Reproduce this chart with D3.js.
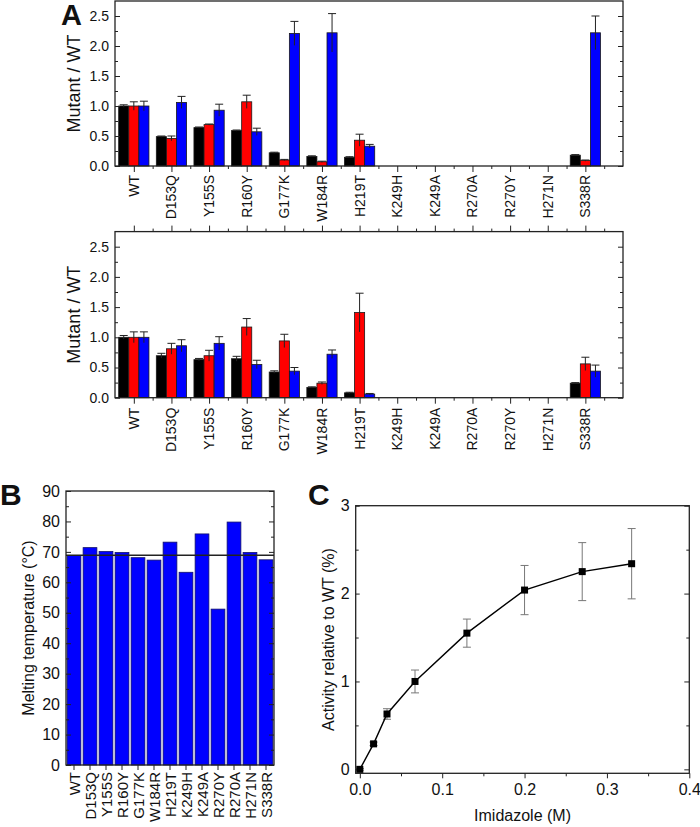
<!DOCTYPE html>
<html><head><meta charset="utf-8">
<script src="https://cdn.jsdelivr.net/npm/d3@7"></script>
<style>body{margin:0;background:#fff}svg{display:block}text{font-family:"Liberation Sans",Arial,sans-serif;fill:#111}</style>
</head><body><div id="chart"></div>
<script>
// ---------- DATA ----------
const categories = ["WT","D153Q","Y155S","R160Y","G177K","W184R","H219T","K249H","K249A","R270A","R270Y","H271N","S338R"];
// Panel A, upper chart
const topBlack    = [1.00,0.49,0.64,0.59,0.22,0.16,0.145,null,null,null,null,null,0.18];
const topBlackErr = [0.02,0.01,0.01,0.01,0.01,0.01,0.01,null,null,null,null,null,0.01];
const topRed      = [1.00,0.46,0.69,1.07,0.10,0.07,0.43,null,null,null,null,null,0.09];
const topRedErr   = [0.07,0.04,0.01,0.11,0.01,0.01,0.10,null,null,null,null,null,0.01];
const topBlue     = [1.00,1.06,0.93,0.57,2.21,2.22,0.33,null,null,null,null,null,2.22];
const topBlueErr  = [0.08,0.10,0.10,0.06,0.20,0.32,0.03,null,null,null,null,null,0.28];
// Panel A, lower chart
const botBlack    = [1.00,0.695,0.63,0.645,0.425,0.17,0.08,null,null,null,null,null,0.24];
const botBlackErr = [0.03,0.04,0.02,0.04,0.02,0.01,0.01,null,null,null,null,null,0.01];
const botRed      = [1.00,0.81,0.695,1.17,0.94,0.24,1.41,null,null,null,null,null,0.56];
const botRedErr   = [0.09,0.09,0.09,0.14,0.11,0.02,0.32,null,null,null,null,null,0.11];
const botBlue     = [1.00,0.86,0.90,0.55,0.44,0.72,0.06,null,null,null,null,null,0.44];
const botBlueErr  = [0.09,0.10,0.11,0.07,0.06,0.07,0.01,null,null,null,null,null,0.10];
const aYTicks = [0,0.5,1.0,1.5,2.0,2.5];
// Panel B
const bCategories = ["WT","D153Q","Y155S","R160Y","G177K","W184R","H219T","K249H","K249A","R270Y","R270A","H271N","S338R"];
const meltTemp = [68.8,71.4,70.1,69.8,68.1,67.3,73.2,63.3,75.9,51.2,79.8,69.8,67.4];
const wtMelt = 68.9;
const bYTicks = [0,10,20,30,40,50,60,70,80,90];
// Panel C
const imidazole = [0,0.0167,0.033,0.067,0.13,0.2,0.27,0.33];
const activity  = [0,0.29,0.63,1.00,1.55,2.04,2.25,2.34];
const activityErr = [0.01,0.02,0.06,0.13,0.16,0.28,0.33,0.40];
const cXTicks = [0,0.1,0.2,0.3,0.4];
const cYTicks = [0,1,2,3];

// ---------- DRAW ----------
const svg = d3.select("#chart").append("svg").attr("width",700).attr("height",827);
const FRAME = "#222";
const colors = ["#000000","#ff0000","#0000ff"];

function clean(g){ g.select(".domain").remove(); g.selectAll(".tick line").attr("stroke",FRAME).attr("stroke-width",1); return g; }

function panelA(yBottom, yTop, series, errs, topTicks, labelY){
  const x = d3.scaleLinear().domain([-0.5,13]).range([115,623]);
  const y = d3.scaleLinear().domain([0,2.75]).range([yBottom,yTop]);
  const g = svg.append("g");
  const step = x(1)-x(0), bw = step*0.268;
  series.forEach((vals,s)=>{
    vals.forEach((v,i)=>{
      if(v==null) return;
      const bx = x(i)+(s-1.5)*bw;
      g.append("rect").attr("x",bx).attr("y",y(v)).attr("width",bw).attr("height",y(0)-y(v))
        .attr("fill",colors[s]).attr("stroke","#1a1a1a").attr("stroke-width",0.8);
      const e = errs[s][i];
      if(e){
        const cx = bx+bw/2;
        g.append("line").attr("x1",cx).attr("x2",cx).attr("y1",y(v+e)).attr("y2",y(Math.max(0,v-e))).attr("stroke","#222").attr("stroke-width",1);
        g.append("line").attr("x1",cx-4).attr("x2",cx+4).attr("y1",y(v+e)).attr("y2",y(v+e)).attr("stroke","#222").attr("stroke-width",1);
      }
    });
  });
  // frame
  g.append("rect").attr("x",x(-0.5)).attr("y",y(2.75)).attr("width",x(13)-x(-0.5)).attr("height",y(0)-y(2.75))
    .attr("fill","none").attr("stroke",FRAME).attr("stroke-width",1.3);
  // left axis
  const la = g.append("g").attr("transform",`translate(${x(-0.5)},0)`)
    .call(d3.axisLeft(y).tickValues(aYTicks).tickSize(-5).tickPadding(6).tickFormat(d3.format(".1f")));
  clean(la); la.selectAll("text").attr("font-size",14).style("font-family",'"Liberation Sans",Arial,sans-serif');
  clean(g.append("g").attr("transform",`translate(${x(-0.5)},0)`).call(d3.axisLeft(y).tickValues([0.25,0.75,1.25,1.75,2.25]).tickSize(-3).tickFormat("")));
  clean(g.append("g").attr("transform",`translate(${x(13)},0)`).call(d3.axisRight(y).tickValues(aYTicks).tickSize(-5).tickFormat("")));
  clean(g.append("g").attr("transform",`translate(${x(13)},0)`).call(d3.axisRight(y).tickValues([0.25,0.75,1.25,1.75,2.25]).tickSize(-3).tickFormat("")));
  // bottom axis
  clean(g.append("g").attr("transform",`translate(0,${y(0)})`).call(d3.axisBottom(x).tickValues(d3.range(13)).tickSize(6).tickFormat("")));
  clean(g.append("g").attr("transform",`translate(0,${y(0)})`).call(d3.axisBottom(x).tickValues(d3.range(13).map(d=>d+0.5)).tickSize(3).tickFormat("")));
  if(topTicks){
    clean(g.append("g").attr("transform",`translate(0,${y(2.75)})`).call(d3.axisTop(x).tickValues(d3.range(13)).tickSize(6).tickFormat("")));
    clean(g.append("g").attr("transform",`translate(0,${y(2.75)})`).call(d3.axisTop(x).tickValues(d3.range(13).map(d=>d+0.5)).tickSize(3).tickFormat("")));
  }
  categories.forEach((c,i)=>{
    g.append("text").attr("transform",`translate(${x(i)},${y(0)+labelY}) rotate(-90)`)
      .attr("text-anchor","end").attr("dominant-baseline","central").attr("font-size",14).text(c);
  });
  g.append("text").attr("transform",`translate(74,${(yBottom+yTop)/2}) rotate(-90)`)
    .attr("text-anchor","middle").attr("dominant-baseline","central").attr("font-size",18).text("Mutant / WT");
}

panelA(166, 1, [topBlack,topRed,topBlue], [topBlackErr,topRedErr,topBlueErr], false, 9);
panelA(397.7, 231.6, [botBlack,botRed,botBlue], [botBlackErr,botRedErr,botBlueErr], true, 10);

svg.append("text").attr("x",61).attr("y",25).attr("font-size",29).attr("font-weight","bold").text("A");

// ---------- Panel B ----------
(function(){
  const x = d3.scaleBand().domain(bCategories).range([66,274]).paddingInner(0.14).paddingOuter(0.07);
  const y = d3.scaleLinear().domain([0,90]).range([765,491]);
  const g = svg.append("g");
  g.selectAll("rect.bar").data(meltTemp).join("rect").attr("class","bar")
    .attr("x",(d,i)=>x(bCategories[i])).attr("y",d=>y(d)).attr("width",x.bandwidth()).attr("height",d=>y(0)-y(d))
    .attr("fill","#0000ff").attr("stroke","#10106a").attr("stroke-width",0.8);
  g.append("line").attr("x1",66).attr("x2",274).attr("y1",y(wtMelt)).attr("y2",y(wtMelt)).attr("stroke","#222").attr("stroke-width",1.5);
  g.append("rect").attr("x",66).attr("y",491).attr("width",208).attr("height",274).attr("fill","none").attr("stroke",FRAME).attr("stroke-width",1.3);
  const la = g.append("g").attr("transform","translate(66,0)").call(d3.axisLeft(y).tickValues(bYTicks).tickSize(-5).tickPadding(6));
  clean(la); la.selectAll("text").attr("font-size",16).style("font-family",'"Liberation Sans",Arial,sans-serif');
  clean(g.append("g").attr("transform","translate(66,0)").call(d3.axisLeft(y).tickValues(d3.range(5,90,10)).tickSize(-3).tickFormat("")));
  clean(g.append("g").attr("transform","translate(274,0)").call(d3.axisRight(y).tickValues(bYTicks).tickSize(-5).tickFormat("")));
  clean(g.append("g").attr("transform","translate(274,0)").call(d3.axisRight(y).tickValues(d3.range(5,90,10)).tickSize(-3).tickFormat("")));
  clean(g.append("g").attr("transform","translate(0,765)").call(d3.axisBottom(x).tickSize(5).tickFormat("")));
  bCategories.forEach(c=>{
    g.append("text").attr("transform",`translate(${x(c)+x.bandwidth()/2},${772}) rotate(-90)`)
      .attr("text-anchor","end").attr("dominant-baseline","central").attr("font-size",15).text(c);
  });
  g.append("text").attr("transform",`translate(28,628) rotate(-90)`).attr("text-anchor","middle")
    .attr("dominant-baseline","central").attr("font-size",16).text("Melting temperature (°C)");
  svg.append("text").attr("x",0).attr("y",505).attr("font-size",30).attr("font-weight","bold").text("B");
})();

// ---------- Panel C ----------
(function(){
  const x = d3.scaleLinear().domain([-0.005,0.4]).range([355.7,689.3]);
  const y = d3.scaleLinear().domain([-0.045,3]).range([773.3,505.7]);
  const g = svg.append("g");
  g.append("rect").attr("x",355.7).attr("y",505.7).attr("width",333.6).attr("height",267.6).attr("fill","none").attr("stroke",FRAME).attr("stroke-width",1.3);
  const la = g.append("g").attr("transform","translate(355.7,0)").call(d3.axisLeft(y).tickValues(cYTicks).tickSize(-4).tickPadding(6).tickFormat(d3.format("d")));
  clean(la); la.selectAll("text").attr("font-size",16).style("font-family",'"Liberation Sans",Arial,sans-serif');
  clean(g.append("g").attr("transform","translate(355.7,0)").call(d3.axisLeft(y).tickValues([0.5,1.5,2.5]).tickSize(-3).tickFormat("")));
  clean(g.append("g").attr("transform","translate(689.3,0)").call(d3.axisRight(y).tickValues(cYTicks).tickSize(-5).tickFormat("")));
  clean(g.append("g").attr("transform","translate(689.3,0)").call(d3.axisRight(y).tickValues([0.5,1.5,2.5]).tickSize(-3).tickFormat("")));
  const ba = g.append("g").attr("transform","translate(0,773.3)").call(d3.axisBottom(x).tickValues(cXTicks).tickSize(5).tickPadding(5).tickFormat(d3.format(".1f")));
  clean(ba); ba.selectAll("text").attr("font-size",16).style("font-family",'"Liberation Sans",Arial,sans-serif');
  clean(g.append("g").attr("transform","translate(0,773.3)").call(d3.axisBottom(x).tickValues([0.05,0.15,0.25,0.35]).tickSize(3).tickFormat("")));
  // error bars
  imidazole.forEach((v,i)=>{
    const cx=x(v), e=activityErr[i], a=activity[i];
    g.append("line").attr("x1",cx).attr("x2",cx).attr("y1",y(a+e)).attr("y2",y(a-e)).attr("stroke","#777").attr("stroke-width",1);
    g.append("line").attr("x1",cx-4).attr("x2",cx+4).attr("y1",y(a+e)).attr("y2",y(a+e)).attr("stroke","#777").attr("stroke-width",1);
    g.append("line").attr("x1",cx-4).attr("x2",cx+4).attr("y1",y(a-e)).attr("y2",y(a-e)).attr("stroke","#777").attr("stroke-width",1);
  });
  const line = d3.line().x((d,i)=>x(imidazole[i])).y(d=>y(d));
  g.append("path").attr("d",line(activity)).attr("fill","none").attr("stroke","#000").attr("stroke-width",1.4);
  g.selectAll("rect.pt").data(activity).join("rect").attr("class","pt")
    .attr("x",(d,i)=>x(imidazole[i])-3.5).attr("y",d=>y(d)-3.5).attr("width",7).attr("height",7).attr("fill","#000");
  g.append("text").attr("x",522.5).attr("y",821).attr("text-anchor","middle").attr("font-size",16).text("Imidazole (M)");
  g.append("text").attr("transform","translate(328,639.5) rotate(-90)").attr("text-anchor","middle")
    .attr("dominant-baseline","central").attr("font-size",16).text("Activity relative to WT (%)");
  svg.append("text").attr("x",308).attr("y",505).attr("font-size",30).attr("font-weight","bold").text("C");
})();
</script></body></html>
